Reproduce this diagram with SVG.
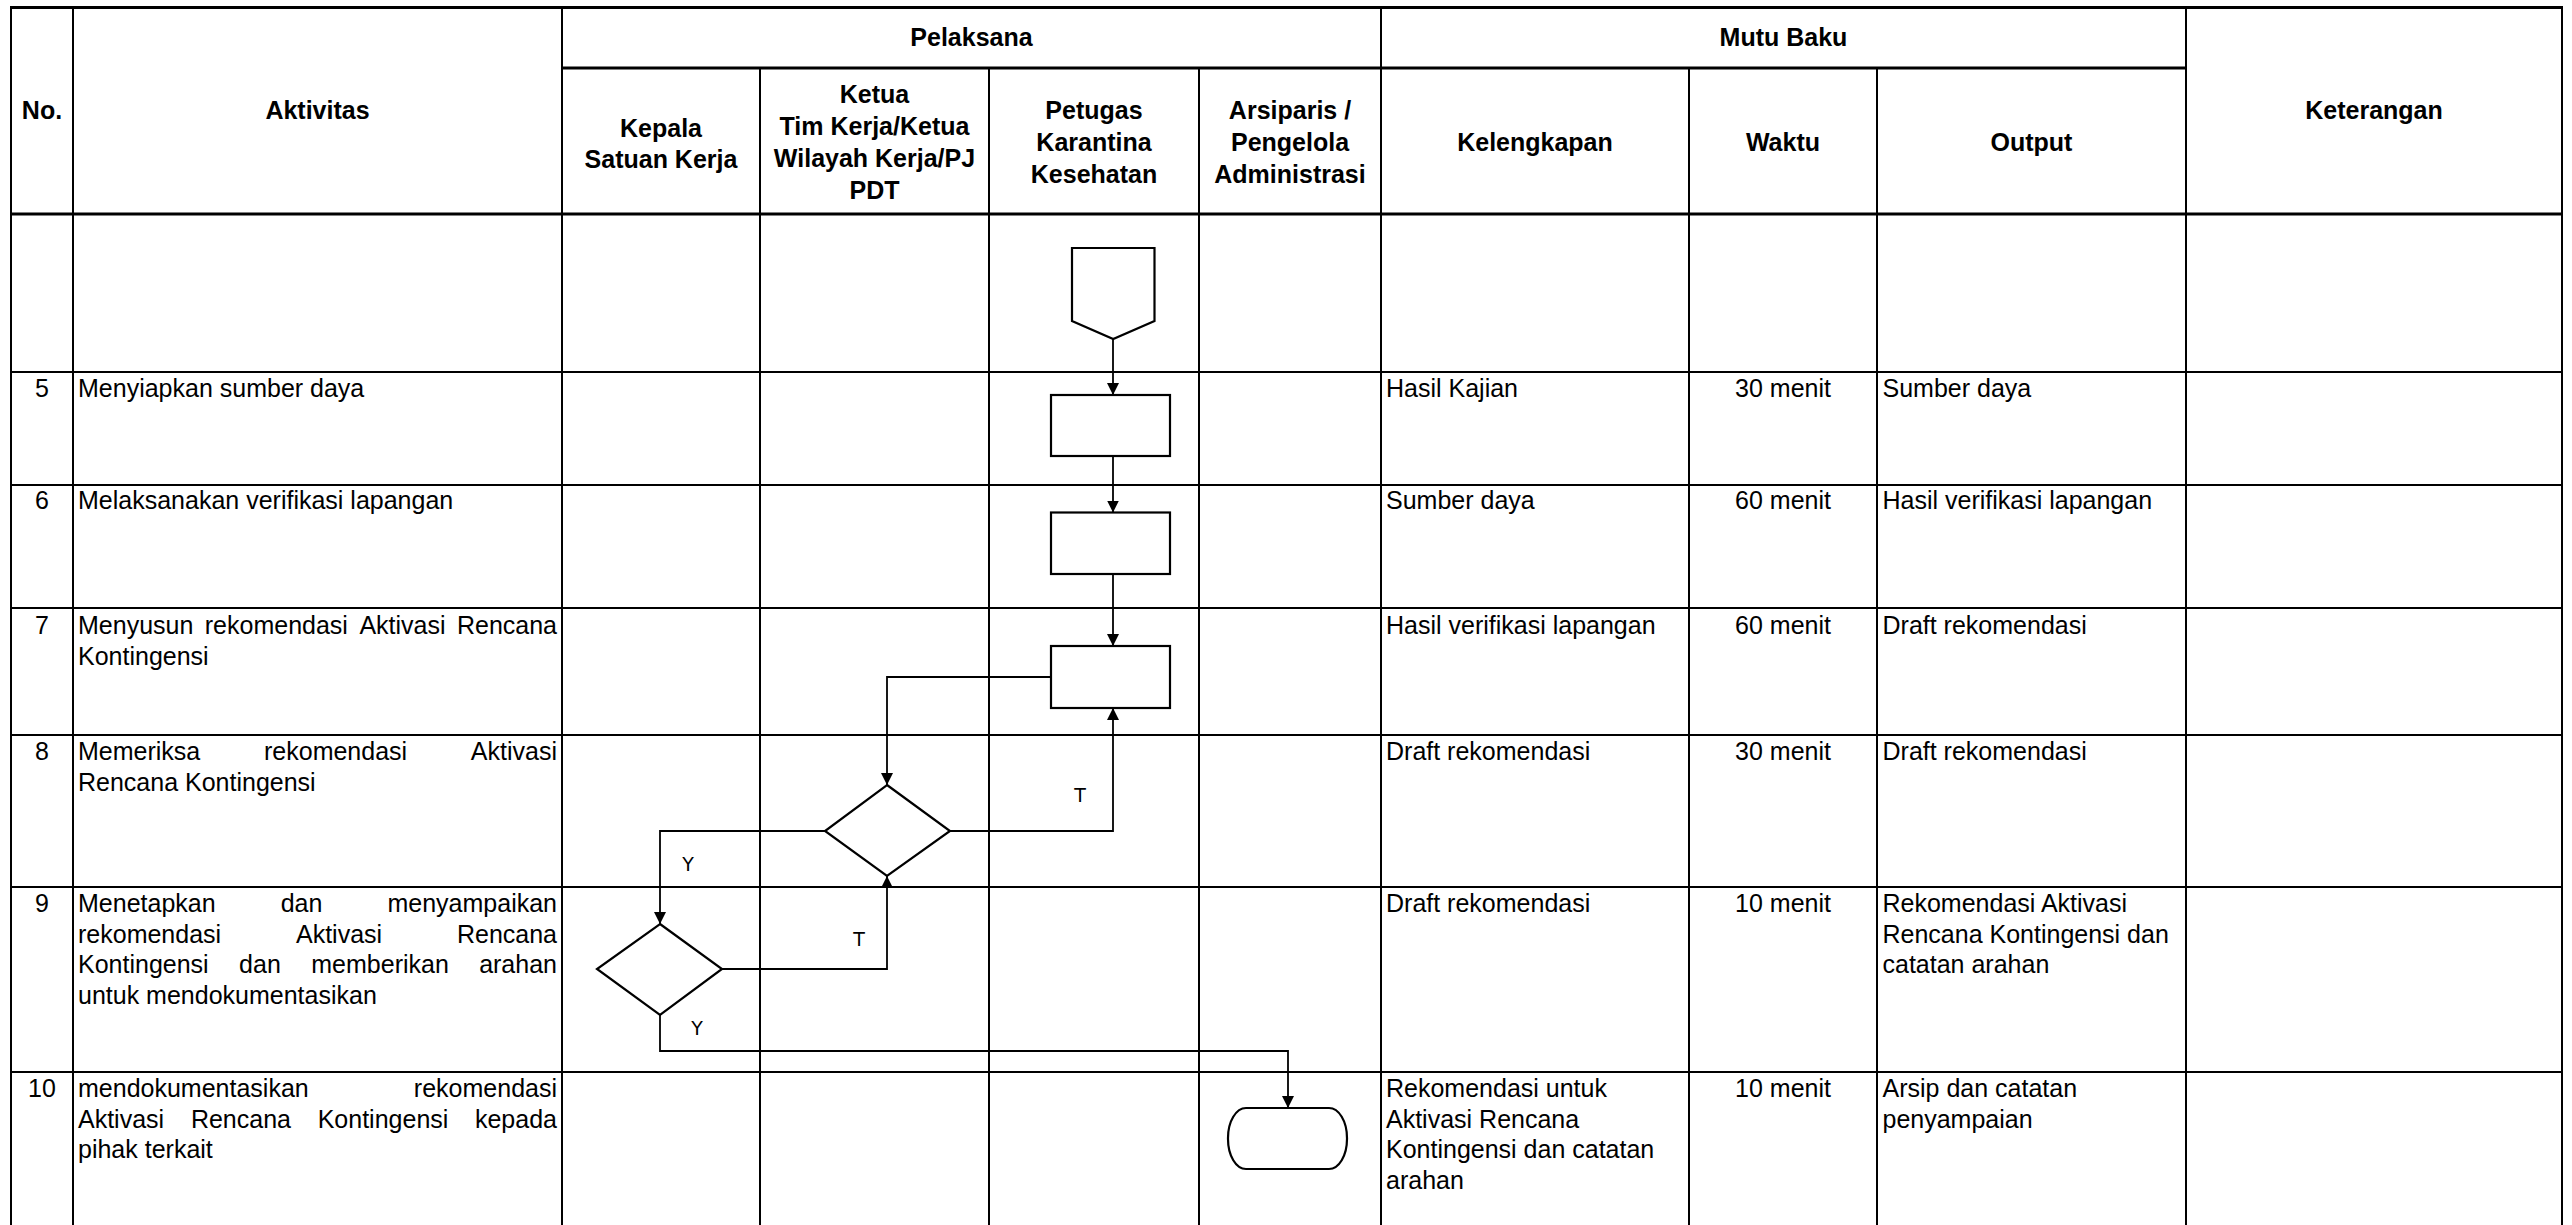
<svg xmlns="http://www.w3.org/2000/svg" width="2572" height="1225" viewBox="0 0 2572 1225">
<defs>
<style>
.grid{stroke:#000;stroke-width:2;fill:none}
.thick{stroke:#000;stroke-width:3;fill:none}
.hd{font-family:"Liberation Sans",Arial,sans-serif;font-size:25px;font-weight:bold;text-anchor:middle;fill:#000}
.tx{font-family:"Liberation Sans",Arial,sans-serif;font-size:25px;fill:#000}
.num{font-family:"Liberation Sans",Arial,sans-serif;font-size:25px;text-anchor:middle;fill:#000}
.mid{text-anchor:middle}
.end{text-anchor:end}
.shape{fill:#fff;stroke:#000;stroke-width:2.2}
.conn{fill:none;stroke:#000;stroke-width:1.8}
.lbl{font-family:"DejaVu Sans",sans-serif;font-size:19px;text-anchor:middle;fill:#000}
</style>
<marker id="arr" viewBox="0 0 12 12" refX="12" refY="6" markerWidth="12" markerHeight="12" markerUnits="userSpaceOnUse" orient="auto">
<path d="M0,0 L12,6 L0,12 z" fill="#000"/>
</marker>
</defs>
<rect width="2572" height="1225" fill="#fff"/>

<g id="table-grid">
<line class="thick" x1="11" y1="7.5" x2="2562" y2="7.5"/>
<line class="thick" x1="562" y1="68" x2="2186" y2="68"/>
<line class="thick" x1="11" y1="214" x2="2562" y2="214"/>
<line class="grid" x1="11" y1="372" x2="2562" y2="372"/>
<line class="grid" x1="11" y1="485" x2="2562" y2="485"/>
<line class="grid" x1="11" y1="608" x2="2562" y2="608"/>
<line class="grid" x1="11" y1="735" x2="2562" y2="735"/>
<line class="grid" x1="11" y1="887" x2="2562" y2="887"/>
<line class="grid" x1="11" y1="1072" x2="2562" y2="1072"/>
<line class="grid" x1="11" y1="6" x2="11" y2="1225"/>
<line class="grid" x1="73" y1="6" x2="73" y2="1225"/>
<line class="grid" x1="562" y1="6" x2="562" y2="1225"/>
<line class="grid" x1="760" y1="68" x2="760" y2="1225"/>
<line class="grid" x1="989" y1="68" x2="989" y2="1225"/>
<line class="grid" x1="1199" y1="68" x2="1199" y2="1225"/>
<line class="grid" x1="1381" y1="6" x2="1381" y2="1225"/>
<line class="grid" x1="1689" y1="68" x2="1689" y2="1225"/>
<line class="grid" x1="1877" y1="68" x2="1877" y2="1225"/>
<line class="grid" x1="2186" y1="6" x2="2186" y2="1225"/>
<line class="grid" x1="2562" y1="6" x2="2562" y2="1225"/>
</g>

<g id="header">
<text class="hd" x="42" y="119">No.</text>
<text class="hd" x="317.5" y="119">Aktivitas</text>
<text class="hd" x="971.5" y="46">Pelaksana</text>
<text class="hd" x="1783.5" y="46">Mutu Baku</text>
<text class="hd" x="2374" y="119">Keterangan</text>
<text class="hd" x="661" y="137">Kepala</text>
<text class="hd" x="661" y="168">Satuan Kerja</text>
<text class="hd" x="874.5" y="103">Ketua</text>
<text class="hd" x="874.5" y="135">Tim Kerja/Ketua</text>
<text class="hd" x="874.5" y="167">Wilayah Kerja/PJ</text>
<text class="hd" x="874.5" y="199">PDT</text>
<text class="hd" x="1094" y="119">Petugas</text>
<text class="hd" x="1094" y="151">Karantina</text>
<text class="hd" x="1094" y="183">Kesehatan</text>
<text class="hd" x="1290" y="119">Arsiparis /</text>
<text class="hd" x="1290" y="151">Pengelola</text>
<text class="hd" x="1290" y="183">Administrasi</text>
<text class="hd" x="1535" y="151">Kelengkapan</text>
<text class="hd" x="1783" y="151">Waktu</text>
<text class="hd" x="2031.5" y="151">Output</text>
</g>

<g id="row5">
<text class="num" x="42" y="397">5</text>
<text class="tx" x="78" y="397">Menyiapkan sumber daya</text>
<text class="tx" x="1386" y="397">Hasil Kajian</text>
<text class="tx mid" x="1783" y="397">30 menit</text>
<text class="tx" x="1882.5" y="397">Sumber daya</text>
</g>

<g id="row6">
<text class="num" x="42" y="509">6</text>
<text class="tx" x="78" y="509">Melaksanakan verifikasi lapangan</text>
<text class="tx" x="1386" y="509">Sumber daya</text>
<text class="tx mid" x="1783" y="509">60 menit</text>
<text class="tx" x="1882.5" y="509">Hasil verifikasi lapangan</text>
</g>

<g id="row7">
<text class="num" x="42" y="634">7</text>
<text class="tx" x="78" y="634">Menyusun</text>
<text class="tx" x="204.8" y="634">rekomendasi</text>
<text class="tx" x="359.4" y="634">Aktivasi</text>
<text class="tx end" x="557" y="634">Rencana</text>
<text class="tx" x="78" y="664.5">Kontingensi</text>
<text class="tx" x="1386" y="634">Hasil verifikasi lapangan</text>
<text class="tx mid" x="1783" y="634">60 menit</text>
<text class="tx" x="1882.5" y="634">Draft rekomendasi</text>
</g>

<g id="row8">
<text class="num" x="42" y="760">8</text>
<text class="tx" x="78" y="760">Memeriksa</text>
<text class="tx" x="264" y="760">rekomendasi</text>
<text class="tx end" x="557" y="760">Aktivasi</text>
<text class="tx" x="78" y="790.5">Rencana Kontingensi</text>
<text class="tx" x="1386" y="760">Draft rekomendasi</text>
<text class="tx mid" x="1783" y="760">30 menit</text>
<text class="tx" x="1882.5" y="760">Draft rekomendasi</text>
</g>

<g id="row9">
<text class="num" x="42" y="912">9</text>
<text class="tx" x="78" y="912">Menetapkan</text>
<text class="tx" x="280.7" y="912">dan</text>
<text class="tx end" x="557" y="912">menyampaikan</text>
<text class="tx" x="78" y="942.7">rekomendasi</text>
<text class="tx" x="296" y="942.7">Aktivasi</text>
<text class="tx end" x="557" y="942.7">Rencana</text>
<text class="tx" x="78" y="973.4">Kontingensi</text>
<text class="tx" x="239.1" y="973.4">dan</text>
<text class="tx" x="311.3" y="973.4">memberikan</text>
<text class="tx end" x="557" y="973.4">arahan</text>
<text class="tx" x="78" y="1004.1">untuk mendokumentasikan</text>
<text class="tx" x="1386" y="912">Draft rekomendasi</text>
<text class="tx mid" x="1783" y="912">10 menit</text>
<text class="tx" x="1882.5" y="912">Rekomendasi Aktivasi</text>
<text class="tx" x="1882.5" y="942.7">Rencana Kontingensi dan</text>
<text class="tx" x="1882.5" y="973.4">catatan arahan</text>
</g>

<g id="row10">
<text class="num" x="42" y="1097">10</text>
<text class="tx" x="78" y="1097">mendokumentasikan</text>
<text class="tx end" x="557" y="1097">rekomendasi</text>
<text class="tx" x="78" y="1127.7">Aktivasi</text>
<text class="tx" x="190.9" y="1127.7">Rencana</text>
<text class="tx" x="317.7" y="1127.7">Kontingensi</text>
<text class="tx end" x="557" y="1127.7">kepada</text>
<text class="tx" x="78" y="1158.4">pihak terkait</text>
<text class="tx" x="1386" y="1097">Rekomendasi untuk</text>
<text class="tx" x="1386" y="1127.7">Aktivasi Rencana</text>
<text class="tx" x="1386" y="1158.4">Kontingensi dan catatan</text>
<text class="tx" x="1386" y="1189.1">arahan</text>
<text class="tx mid" x="1783" y="1097">10 menit</text>
<text class="tx" x="1882.5" y="1097">Arsip dan catatan</text>
<text class="tx" x="1882.5" y="1127.7">penyampaian</text>
</g>

<g id="connectors">
<path class="conn" d="M1113,339 L1113,395" marker-end="url(#arr)"/>
<path class="conn" d="M1113,456 L1113,512.5" marker-end="url(#arr)"/>
<path class="conn" d="M1113,574 L1113,646" marker-end="url(#arr)"/>
<path class="conn" d="M1051,677 L887,677 L887,785" marker-end="url(#arr)"/>
<path class="conn" d="M950,831 L1113,831 L1113,708" marker-end="url(#arr)"/>
<path class="conn" d="M825,831 L660,831 L660,924" marker-end="url(#arr)"/>
<path class="conn" d="M722,969 L887,969 L887,876" marker-end="url(#arr)"/>
<path class="conn" d="M660,1015 L660,1051 L1288,1051 L1288,1108" marker-end="url(#arr)"/>
<text class="lbl" x="1080" y="802">T</text>
<text class="lbl" x="688" y="871">Y</text>
<text class="lbl" x="859" y="946">T</text>
<text class="lbl" x="697" y="1035">Y</text>
</g>

<g id="node-offpage-connector">
<path class="shape" d="M1072,248 L1154.5,248 L1154.5,321 L1113.2,339 L1072,321 Z"/>
</g>
<g id="node-step5">
<rect class="shape" x="1051" y="395" width="119" height="61"/>
</g>
<g id="node-step6">
<rect class="shape" x="1051" y="512.5" width="119" height="61.5"/>
</g>
<g id="node-step7">
<rect class="shape" x="1051" y="646" width="119" height="62"/>
</g>
<g id="node-decision8">
<polygon class="shape" points="887,785 950,831 887,876 825,831"/>
</g>
<g id="node-decision9">
<polygon class="shape" points="660,924 722,969 660,1015 597,969"/>
</g>
<g id="node-end10">
<rect class="shape" x="1228" y="1108" width="119" height="61" rx="18" ry="30"/>
</g>
</svg>
